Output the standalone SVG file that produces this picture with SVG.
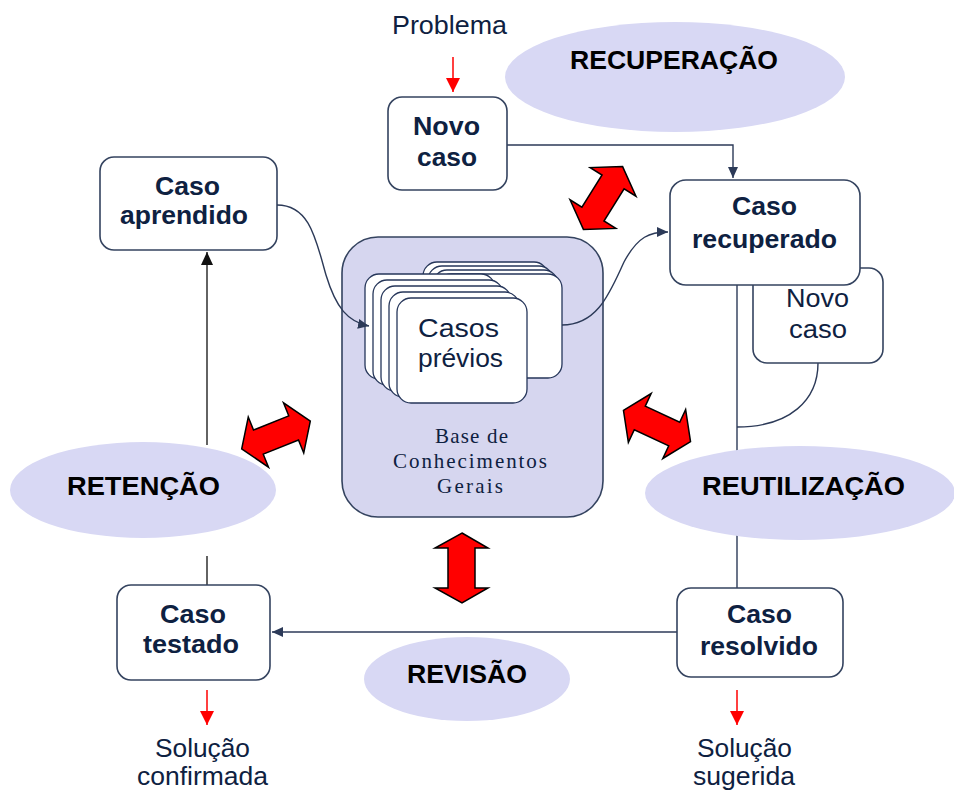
<svg xmlns="http://www.w3.org/2000/svg" width="954" height="792" viewBox="0 0 954 792">
<style>
.box{fill:#fff;stroke:#34435f;stroke-width:1.6}
.card{fill:#fff;stroke:#26365a;stroke-width:1.3}
.ell{fill:#d8d8f4;stroke:none}
.base{fill:#d6d6ef;stroke:#34435f;stroke-width:1.6}
.b{font-family:"Liberation Sans",Arial,sans-serif;font-weight:bold;font-size:26px;fill:#0e2141;text-anchor:middle}
.r{font-family:"Liberation Sans",Arial,sans-serif;font-size:26px;fill:#0e2141;text-anchor:middle}
.lab{font-family:"Liberation Sans",Arial,sans-serif;font-weight:bold;font-size:26px;fill:#000;text-anchor:middle}
.serif{font-family:"Liberation Serif","Times New Roman",serif;font-size:21px;fill:#0e2141;text-anchor:middle}
.con{fill:none;stroke:#2c3a58;stroke-width:1.4}
.blk{fill:none;stroke:#222;stroke-width:1.4}
.red{fill:none;stroke:#ff0000;stroke-width:1.5}
.dbl{fill:#ff0000;stroke:#000;stroke-width:1.5;stroke-linejoin:miter}
</style>
<defs>
<marker id="nav" markerWidth="12" markerHeight="12" refX="11" refY="6" orient="auto" markerUnits="userSpaceOnUse"><path d="M0,1 L11,6 L0,11 z" fill="#2c3a58"/></marker>
<marker id="blkm" markerWidth="14" markerHeight="14" refX="13" refY="7" orient="auto" markerUnits="userSpaceOnUse"><path d="M0,1 L13,7 L0,13 z" fill="#111"/></marker>
<marker id="redm" markerWidth="14" markerHeight="16" refX="14" refY="7" orient="auto" markerUnits="userSpaceOnUse"><path d="M0,0 L14,7 L0,14 z" fill="#ff0000"/></marker>
<polygon id="dblarrow" points="-37,0 -19,-27 -19,-13 19,-13 19,-27 37,0 19,27 19,13 -19,13 -19,27"/>
</defs>

<g id="connectors">
<line class="con" x1="737" y1="285" x2="737" y2="588"/>
<path class="con" d="M818,363 C818,400 790,427 737,427"/>
<line class="blk" x1="207" y1="556" x2="207" y2="585"/>
<line class="blk" x1="207" y1="445" x2="207" y2="252" marker-end="url(#blkm)"/>
<path class="con" d="M507,145 H733 V178" marker-end="url(#nav)"/>
<line class="con" x1="677" y1="632" x2="272" y2="632" marker-end="url(#nav)"/>
<line class="red" x1="453" y1="57" x2="453" y2="92" marker-end="url(#redm)"/>
<line class="red" x1="207" y1="690" x2="207" y2="725" marker-end="url(#redm)"/>
<line class="red" x1="737" y1="690" x2="737" y2="725" marker-end="url(#redm)"/>
</g>

<g id="ell-recuperacao"><ellipse class="ell" cx="675" cy="77" rx="170" ry="55"/><text class="lab" x="674" y="69" textLength="208" lengthAdjust="spacingAndGlyphs">RECUPERAÇÃO</text></g>
<g id="ell-retencao"><ellipse class="ell" cx="143" cy="490" rx="133" ry="48"/><text class="lab" x="143.5" y="495" textLength="153" lengthAdjust="spacingAndGlyphs">RETENÇÃO</text></g>
<g id="ell-reutilizacao"><ellipse class="ell" cx="800" cy="493" rx="155" ry="47"/><text class="lab" x="803.5" y="495" textLength="203" lengthAdjust="spacingAndGlyphs">REUTILIZAÇÃO</text></g>
<g id="ell-revisao"><ellipse class="ell" cx="467" cy="679" rx="103" ry="42"/><text class="lab" x="467" y="683" textLength="120" lengthAdjust="spacingAndGlyphs">REVISÃO</text></g>

<g id="problema"><text class="r" x="449.5" y="34" textLength="115" lengthAdjust="spacingAndGlyphs">Problema</text></g>

<g id="novo-caso">
<rect class="box" x="388" y="97" width="119" height="93" rx="14"/>
<text class="b" x="446.5" y="135" textLength="67" lengthAdjust="spacingAndGlyphs">Novo</text>
<text class="b" x="447" y="166" textLength="60" lengthAdjust="spacingAndGlyphs">caso</text>
</g>

<g id="caso-aprendido">
<rect class="box" x="100" y="157" width="177" height="93" rx="14"/>
<text class="b" x="187.5" y="195" textLength="65" lengthAdjust="spacingAndGlyphs">Caso</text>
<text class="b" x="184" y="224" textLength="128" lengthAdjust="spacingAndGlyphs">aprendido</text>
</g>

<g id="novo-caso-2">
<rect class="box" x="753" y="268" width="130" height="95" rx="14"/>
<text class="r" x="817.5" y="307" textLength="63" lengthAdjust="spacingAndGlyphs">Novo</text>
<text class="r" x="818" y="338" textLength="58" lengthAdjust="spacingAndGlyphs">caso</text>
</g>

<g id="caso-recuperado">
<rect class="box" x="670" y="180" width="190" height="105" rx="16"/>
<text class="b" x="764.5" y="215" textLength="65" lengthAdjust="spacingAndGlyphs">Caso</text>
<text class="b" x="764.5" y="248" textLength="145" lengthAdjust="spacingAndGlyphs">recuperado</text>
</g>

<g id="base">
<rect class="base" x="342" y="237" width="261" height="280" rx="36"/>
<rect class="card" x="423" y="262" width="125" height="104" rx="14"/>
<rect class="card" x="428" y="266" width="125" height="104" rx="14"/>
<rect class="card" x="433" y="270" width="125" height="104" rx="14"/>
<rect class="card" x="437" y="274" width="125" height="104" rx="14"/>
<rect class="card" x="365" y="274" width="130" height="105" rx="14"/>
<rect class="card" x="373" y="280" width="130" height="105" rx="14"/>
<rect class="card" x="381" y="286" width="130" height="105" rx="14"/>
<rect class="card" x="389" y="292" width="130" height="105" rx="14"/>
<rect class="card" x="397" y="298" width="130" height="105" rx="14"/>
<text class="r" x="458.5" y="337" textLength="81" lengthAdjust="spacingAndGlyphs">Casos</text>
<text class="r" x="460.5" y="367" textLength="85" lengthAdjust="spacingAndGlyphs">prévios</text>
<text class="serif" x="471.5" y="443" textLength="73" lengthAdjust="spacing">Base de</text>
<text class="serif" x="470" y="468" textLength="154" lengthAdjust="spacing">Conhecimentos</text>
<text class="serif" x="470" y="493" textLength="66" lengthAdjust="spacing">Gerais</text>
</g>

<g id="connectors-base">
<path class="con" d="M277,205 C310,205 316,240 326,275 C336,308 348,322 369,326" marker-end="url(#nav)"/>
<path class="con" d="M562,325 C598,325 610,292 624,262 C638,236 650,232 668,232" marker-end="url(#nav)"/>
</g>

<g id="caso-testado">
<rect class="box" x="117" y="585" width="153" height="95" rx="14"/>
<text class="b" x="193" y="623" textLength="66" lengthAdjust="spacingAndGlyphs">Caso</text>
<text class="b" x="191" y="653" textLength="96" lengthAdjust="spacingAndGlyphs">testado</text>
</g>

<g id="caso-resolvido">
<rect class="box" x="677" y="588" width="166" height="89" rx="14"/>
<text class="b" x="759.5" y="623" textLength="65" lengthAdjust="spacingAndGlyphs">Caso</text>
<text class="b" x="759" y="655" textLength="118" lengthAdjust="spacingAndGlyphs">resolvido</text>
</g>

<g id="solucao-confirmada">
<text class="r" x="202.5" y="757" textLength="95" lengthAdjust="spacingAndGlyphs">Solução</text>
<text class="r" x="202.5" y="785" textLength="131" lengthAdjust="spacingAndGlyphs">confirmada</text>
</g>
<g id="solucao-sugerida">
<text class="r" x="744.5" y="757" textLength="95" lengthAdjust="spacingAndGlyphs">Solução</text>
<text class="r" x="744" y="785" textLength="102" lengthAdjust="spacingAndGlyphs">sugerida</text>
</g>

<g id="red-arrows">
<use href="#dblarrow" class="dbl" transform="translate(603,198) rotate(-58)"/>
<use href="#dblarrow" class="dbl" transform="translate(657,426) rotate(25)"/>
<use href="#dblarrow" class="dbl" transform="translate(276,435) rotate(-22)"/>
<polygon class="dbl" points="462,533 488,548 475,548 475,588 488,588 462,603 435,588 448,588 448,548 435,548"/>
</g>
</svg>
